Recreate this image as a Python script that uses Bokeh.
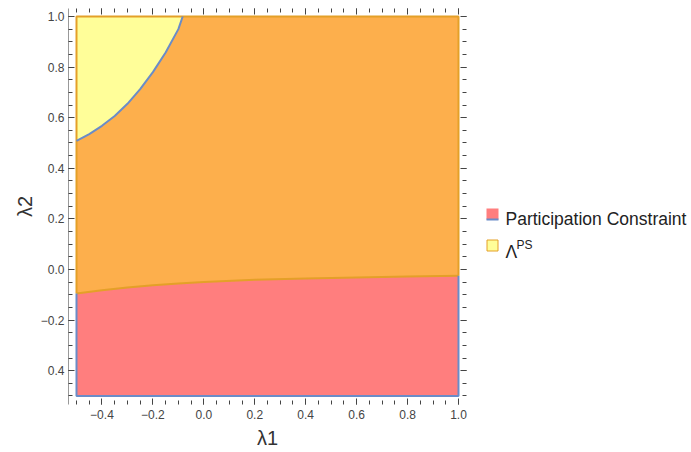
from bokeh.plotting import figure
from bokeh.models import FixedTicker, LinearAxis, Range1d
from bokeh.layouts import row
from bokeh.core.properties import value
from bokeh.embed import file_html
from bokeh.resources import INLINE

# ---- data ----
lam1_lower = [-0.5, -0.4, -0.3, -0.2, -0.1, 0.0, 0.2, 0.4, 0.6, 0.8, 1.0]
lam2_lower = [-0.095, -0.082, -0.071, -0.062, -0.055, -0.049, -0.041, -0.036, -0.032, -0.028, -0.025]
lam1_upper = [-0.5, -0.45, -0.4, -0.35, -0.3, -0.25, -0.2, -0.15, -0.1, -0.083]
lam2_upper = [0.508, 0.535, 0.568, 0.607, 0.655, 0.713, 0.78, 0.858, 0.95, 1.0]
x_min, x_max = -0.5, 1.0
y_min, y_max = -0.5, 1.0
x_ticks = [-0.4, -0.2, 0.0, 0.2, 0.4, 0.6, 0.8, 1.0]
x_tick_labels = ["\u22120.4", "\u22120.2", "0.0", "0.2", "0.4", "0.6", "0.8", "1.0"]
y_ticks = [-0.4, -0.2, 0.0, 0.2, 0.4, 0.6, 0.8, 1.0]
y_tick_labels = ["0.4", "\u22120.2", "0.0", "0.2", "0.4", "0.6", "0.8", "1.0"]
minor_ticks = [round(-0.5 + 0.05 * i, 2) for i in range(31)]
legend_labels = ["Participation Constraint", "\u039b"]
legend_sup = "PS"

RED = "#FF7E7E"
ORANGE = "#FDAF4C"
YELLOW = "#FFFE99"
BLUE_LINE = "#6A8CC8"
ORANGE_LINE = "#E4A028"
FONT = "Liberation Sans"

pad_x = 8 / 254.67
p = figure(frame_width=398, frame_height=396,
           x_range=Range1d(x_min - pad_x, x_max + pad_x),
           y_range=Range1d(-0.5336, 1.0316),
           output_backend="svg", toolbar_location=None,
           min_border_left=68, min_border_right=10,
           min_border_top=8, min_border_bottom=48,
           x_axis_label="\u03bb1", y_axis_label="\u03bb2")
p.grid.visible = False
p.outline_line_color = None
p.background_fill_color = "white"

# regions
red_x = [x_min] + lam1_lower + [x_max]
red_y = [y_min] + lam2_lower + [y_min]
p.patch(red_x, red_y, fill_color=RED, line_color=None)

orange_x = lam1_lower + [x_max] + lam1_upper[::-1]
orange_y = lam2_lower + [y_max] + lam2_upper[::-1]
p.patch(orange_x, orange_y, fill_color=ORANGE, line_color=None)

yellow_x = [x_min] + lam1_upper
yellow_y = [y_max] + lam2_upper
p.patch(yellow_x, yellow_y, fill_color=YELLOW, line_color=None)

# boundaries
p.line(lam1_lower, lam2_lower, line_color=ORANGE_LINE, line_width=2)
p.line([x_min, x_min, x_max, x_max], [lam2_lower[0], y_max, y_max, lam2_lower[-1]],
       line_color=ORANGE_LINE, line_width=2)
p.line([x_min, x_min, x_max, x_max], [lam2_lower[0], y_min, y_min, lam2_lower[-1]],
       line_color=BLUE_LINE, line_width=2)
p.line(lam1_upper, lam2_upper, line_color=BLUE_LINE, line_width=2)

# axes
def style_axis(ax, ticks, labels, show_labels=True, line_color=None):
    ax.ticker = FixedTicker(ticks=ticks, minor_ticks=minor_ticks)
    ax.major_tick_in = 6
    ax.major_tick_out = 0
    ax.minor_tick_in = 4
    ax.minor_tick_out = 0
    ax.major_tick_line_color = "#444444"
    ax.minor_tick_line_color = "#444444"
    ax.axis_line_color = line_color
    if show_labels:
        ax.major_label_overrides = dict(zip(ticks, labels))
        ax.major_label_text_font = FONT
        ax.major_label_text_font_size = "12px"
        ax.major_label_text_color = "#444444"
    else:
        ax.major_label_text_font_size = "0px"
        ax.major_label_standoff = 0

style_axis(p.xaxis[0], x_ticks, x_tick_labels)
style_axis(p.yaxis[0], y_ticks, y_tick_labels, line_color="#999999")
p.xaxis[0].major_label_standoff = 5
p.yaxis[0].major_label_standoff = 4
for ax, so in ((p.xaxis[0], 5), (p.yaxis[0], 2)):
    ax.axis_label_text_font = FONT
    ax.axis_label_text_font_size = "20px"
    ax.axis_label_text_font_style = "normal"
    ax.axis_label_text_color = "#333333"
    ax.axis_label_standoff = so

top = LinearAxis()
style_axis(top, x_ticks, None, show_labels=False)
p.add_layout(top, "above")
right = LinearAxis()
style_axis(right, y_ticks, None, show_labels=False)
p.add_layout(right, "right")

# legend panel (pixel coordinates, y downward; frame aligned with main frame 8..404)
lg = figure(width=215, height=452, x_range=Range1d(0, 215), y_range=Range1d(404, 8),
            x_axis_type=None, y_axis_type=None, min_border=0,
            output_backend="svg", toolbar_location=None)
lg.outline_line_color = None
lg.grid.visible = False

lg.quad(left=[10], right=[22], top=[208], bottom=[219], fill_color=RED, line_color=None)
lg.segment(x0=[10], y0=[219], x1=[22], y1=[219], line_color=BLUE_LINE, line_width=2)
lg.quad(left=[10.5], right=[21.5], top=[239.5], bottom=[250.5], fill_color=YELLOW,
        line_color=ORANGE_LINE, line_width=1)
lg.text(x=[29, 29], y=[218.5, 251.5], text=legend_labels, text_font=value(FONT),
        text_font_size="17.5px", text_baseline="alphabetic", text_color="#222222")
lg.text(x=[40], y=[244], text=[legend_sup], text_font=value(FONT),
        text_font_size="12px", text_baseline="alphabetic", text_color="#222222")

layout = row(p, lg)
open("out.html", "w").write(file_html(layout, INLINE))
